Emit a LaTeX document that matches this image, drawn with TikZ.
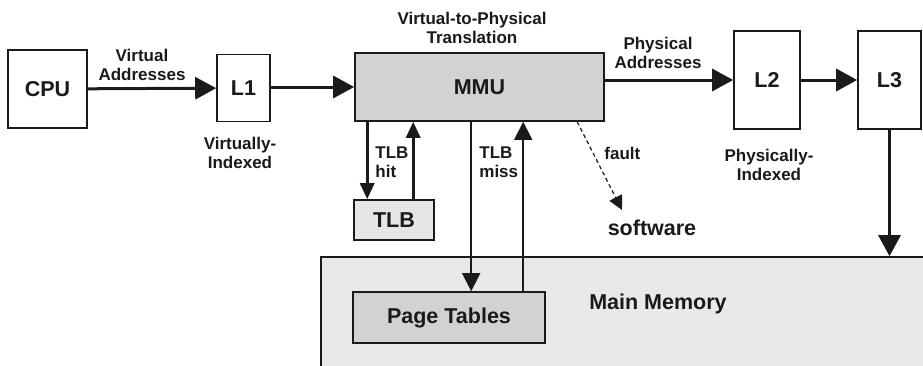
\documentclass[tikz,border=0pt]{standalone}
\usepackage{fontspec}
\setmainfont{Liberation Sans}
\usetikzlibrary{arrows.meta,calc}

\definecolor{unitgray}{HTML}{D2D2D2}
\definecolor{tlbgray}{HTML}{E6E6E6}
\definecolor{memgray}{HTML}{EBE8E8}
\definecolor{ink}{HTML}{1A1A1A}

\begin{document}
\begin{tikzpicture}[
  x=0.5pt, y=-0.5pt,
  font=\bfseries\fontsize{8.5}{9.5}\selectfont, ink,
  box/.style={rectangle,draw=ink,line width=0.8pt,fill=white,inner sep=0pt,
              font=\bfseries\fontsize{10.75}{12}\selectfont},
  unit/.style={box,fill=unitgray},
  lbl/.style={align=center,inner sep=0pt},
  big/.style={font=\bfseries\fontsize{10.75}{12}\selectfont,inner sep=0pt},
  arr/.style={-{Triangle[length=10.5pt,width=11pt]},line width=1.5pt},
  arrmid/.style={-{Triangle[length=8pt,width=7pt]},line width=1.5pt},
  arrthin/.style={-{Triangle[length=9pt,width=9pt]},line width=0.8pt},
]
\useasboundingbox (0,0) rectangle (923,365);

% ===== memory (behind everything) =====
\node[box,fill=memgray,minimum width=302pt,minimum height=56.5pt] (mem) at (623,313.5) {};
\node[big] (memlbl) at (658,304) {Main Memory};

% ===== front-end: CPU -> L1 -> MMU =====
\node[box,minimum width=39.5pt,minimum height=39pt] (cpu) at (47.5,89) {CPU};
\node[box,minimum width=26.5pt,minimum height=33.5pt] (l1) at (243.5,88) {L1};
\node[unit,minimum width=124.5pt,minimum height=34pt] (mmu) at (479.5,87) {MMU};
\node[box,fill=tlbgray,minimum width=40pt,minimum height=20pt] (tlb) at (394,220) {TLB};
\node[unit,minimum width=96pt,minimum height=25.5pt] (ptab) at (449,317.5) {Page Tables};

% ===== back-end: L2 -> L3 =====
\node[box,minimum width=33pt,minimum height=49pt] (l2) at (767,80) {L2};
\node[box,minimum width=31.5pt,minimum height=49pt] (l3) at (889.5,80) {L3};

% labels
\node[lbl] (va) at (142,64.5) {Virtual\\Addresses};
\node[lbl] (vi) at (240,153) {Virtually-\\Indexed};
\node[lbl] (v2p) at (472,28) {Virtual-to-Physical\\Translation};
\node[lbl,align=left,anchor=west] (hit) at (375,162.5) {TLB\\hit};
\node[lbl,align=left,anchor=west] (miss) at (479,162.5) {TLB\\miss};
\node[lbl,anchor=west] (fltlbl) at (604,153) {fault};
\node[big] (sw) at (652,228) {software};
\node[lbl] (pa) at (658,52.5) {Physical\\Addresses};
\node[lbl] (pi) at (769,165) {Physically-\\Indexed};

% connectors
\draw[arr] (cpu) -- (l1);
\draw[arr] (l1.east |- mmu.west) -- (mmu.west);
\draw[arr] (l2.west -| mmu.east) -- (l2.west);
\draw[arr] (l2) -- (l3);
\draw[arr] (l3.south) -- (l3.south |- mem.north);

\coordinate (hitdn) at ($(tlb.north west)+(14,0)$);
\coordinate (hitup) at ($(tlb.north west)+(60,0)$);
\draw[arrmid] (hitdn |- mmu.south) -- (hitdn);
\draw[arrmid] (hitup) -- (hitup |- mmu.south);

\coordinate (missdn) at ($(ptab.north west)+(119,0)$);
\coordinate (missup) at ($(ptab.north west)+(171,0)$);
\draw[arrthin] (missdn |- mmu.south) -- (missdn);
\draw[arrthin] (missup) -- (missup |- mmu.south);

\coordinate (fltsrc) at ($(mmu.south west)+(223,0)$);
\coordinate (flt) at (622,210);
\draw[-{Triangle[length=7pt,width=7pt]},line width=0.6pt,dash pattern=on 2pt off 1.5pt]
  (fltsrc) -- (flt);
\end{tikzpicture}
\end{document}
